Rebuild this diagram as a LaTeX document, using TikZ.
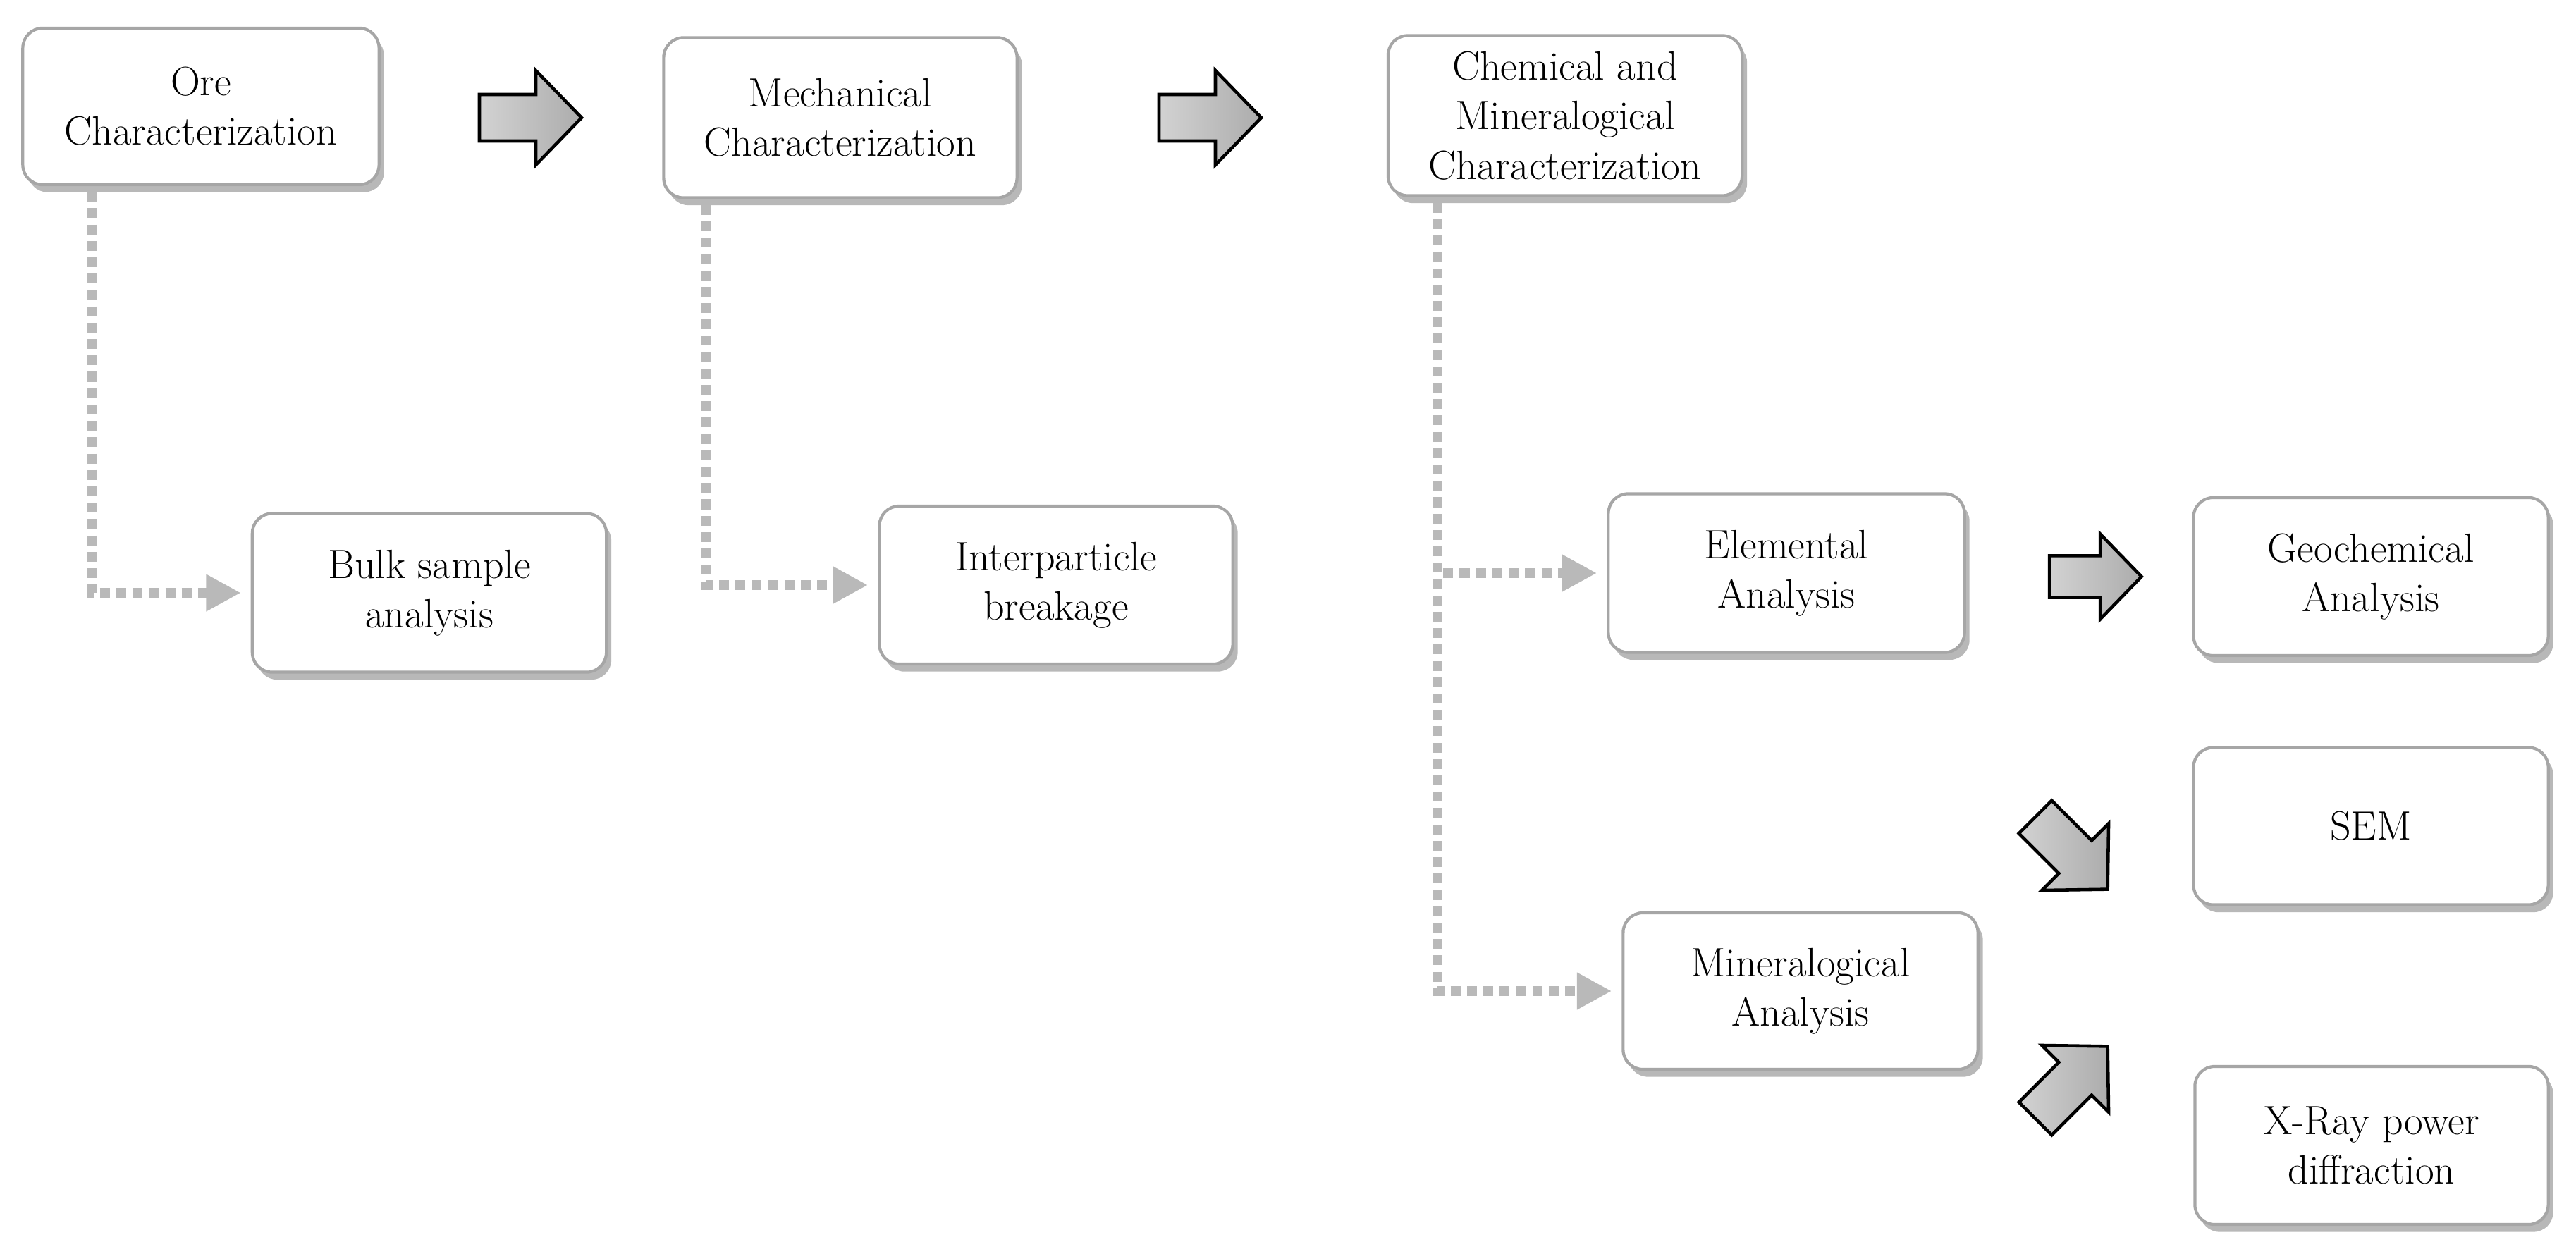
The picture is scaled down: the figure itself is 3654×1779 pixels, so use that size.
\documentclass[tikz,border=0pt]{standalone}
\usetikzlibrary{shadows,calc,arrows.meta}
\begin{document}
\begin{tikzpicture}[x=0.01cm,y=-0.01cm,
  box/.style={draw=gray!70,line width=1.2pt,rounded corners=8pt,fill=white,
    drop shadow={shadow xshift=2pt,shadow yshift=-3pt,fill=gray!70,opacity=0.8},
    align=center,font=\fontsize{16.5}{20}\selectfont,inner sep=2pt},
  afill/.style={draw=black,line width=1.3pt,left color=gray!35,right color=gray!65,line join=miter},
  barrow/.pic={\draw[afill] (-72,-33)--(8,-33)--(8,-67)--(73,0)--(8,67)--(8,33)--(-72,33)--cycle;},
  dotline/.style={draw=gray!55,line width=4pt,dash pattern=on 4pt off 2.6pt,
    -{Triangle[length=14pt,width=14pt,fill=gray!55]},shorten >=4pt}]
\useasboundingbox (0,0) rectangle (3654,1779);
\node[box,minimum width=5.05cm,minimum height=2.22cm] (ore) at (285,151) {Ore\\Characterization};
\node[box,minimum width=5.01cm,minimum height=2.27cm] (mech) at (1192,167) {Mechanical\\Characterization};
\node[box,minimum width=5.02cm,minimum height=2.27cm] (chem) at (2220,164) {Chemical and\\Mineralogical\\Characterization};
\node[box,minimum width=5.02cm,minimum height=2.25cm] (bulk) at (609,841) {Bulk sample\\analysis};
\node[box,minimum width=5.01cm,minimum height=2.24cm] (inter) at (1498,830) {Interparticle\\breakage};
\node[box,minimum width=5.05cm,minimum height=2.25cm] (elem) at (2534,813) {Elemental\\Analysis};
\node[box,minimum width=5.03cm,minimum height=2.24cm] (geo) at (3363,818) {Geochemical\\Analysis};
\node[box,minimum width=5.03cm,minimum height=2.23cm] (sem) at (3363,1172) {SEM};
\node[box,minimum width=5.03cm,minimum height=2.22cm] (min) at (2554,1406) {Mineralogical\\Analysis};
\node[box,minimum width=5.01cm,minimum height=2.24cm] (xray) at (3364,1625) {X-Ray power\\diffraction};
\coordinate (a1) at (752,167);
\coordinate (a2) at (1716,167);
\coordinate (a3) at (2972,818);
\coordinate (a4) at (2938,1210);
\coordinate (a5) at (2938,1536);
\pic at (a1) {barrow};
\pic at (a2) {barrow};
\pic[scale=0.9] at (a3) {barrow};
\pic[rotate=-45] at (a4) {barrow};
\pic[rotate=45] at (a5) {barrow};
\draw[dotline] ($(ore.south west)+(100,8)$) |- (bulk.west);
\draw[dotline] ($(mech.south west)+(63,8)$) |- (inter.west);
\draw[dotline] ($(chem.south west)+(72,8)$) |- (elem.west);
\draw[dotline] ($(chem.south west)+(72,8)$) |- (min.west);
\end{tikzpicture}
\end{document}
